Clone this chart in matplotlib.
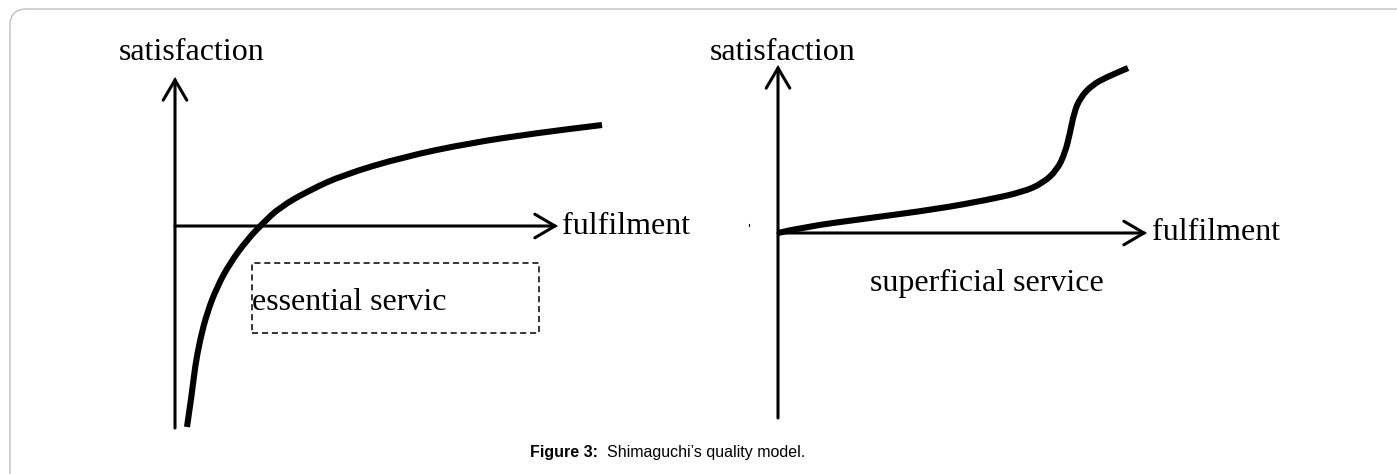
import matplotlib.pyplot as plt
from matplotlib.patches import FancyBboxPatch, Rectangle, FancyArrowPatch, PathPatch
from matplotlib.path import Path

# --- data (diagram units, origin at the axis crossing) ---
# essential service: satisfaction vs fulfilment
essential_x = [0.12, 0.17, 0.20, 0.25, 0.32, 0.42, 0.55, 0.72, 0.87, 1.05,
               1.35, 1.68, 2.28, 2.95, 3.62, 4.27]
essential_y = [-2.01, -1.67, -1.41, -1.14, -0.87, -0.61, -0.37, -0.14, 0.02, 0.19,
               0.36, 0.51, 0.69, 0.83, 0.93, 1.01]

# superficial service: satisfaction vs fulfilment
superficial_x = [0.0, 0.25, 0.92, 1.59, 2.09, 2.45, 2.65, 2.79, 2.87, 2.92,
                 2.96, 3.02, 3.14, 3.29, 3.50]
superficial_y = [0.0, 0.06, 0.15, 0.24, 0.33, 0.41, 0.50, 0.63, 0.80, 1.00,
                 1.20, 1.35, 1.48, 1.56, 1.65]

x_label = 'fulfilment'
y_label = 'satisfaction'
left_box_label = 'essential servic'
right_label = 'superficial service'
caption_bold = 'Figure 3:'
caption_text = "  Shimaguchi\u2019s quality model."

SERIF = ['Liberation Serif', 'DejaVu Serif']
SANS = ['Liberation Sans', 'DejaVu Sans']

W, H = 1397, 474
fig = plt.figure(figsize=(W / 100, H / 100), dpi=100)

# page frame (only the top-left corner is visible in the crop)
frame = FancyBboxPatch((10 / W, -0.2), 1.2, (H - 9) / H + 0.2,
                       boxstyle='round,pad=0,rounding_size=0.012',
                       transform=fig.transFigure, fill=False,
                       edgecolor='#c4c4c4', lw=1.1, mutation_aspect=W / H)
fig.patches.append(frame)


def make_panel(ox, oy):
    # full-figure axes, 1 unit = 100 px, origin at pixel (ox, oy)
    ax = fig.add_axes([0, 0, 1, 1])
    ax.set_xlim(-ox / 100, (W - ox) / 100)
    ax.set_ylim(-(H - oy) / 100, oy / 100)
    ax.axis('off')
    ax.patch.set_alpha(0)
    return ax


def draw_axes(ax, y_bottom, y_top, x_right):
    style = '->,head_length=1.45,head_width=0.85'
    ax.add_patch(FancyArrowPatch((0, y_bottom), (0, y_top), arrowstyle=style,
                                 mutation_scale=10, lw=2.2, color='black',
                                 shrinkA=0, shrinkB=0, joinstyle='miter'))
    ax.add_patch(FancyArrowPatch((0, 0), (x_right, 0), arrowstyle=style,
                                 mutation_scale=10, lw=2.2, color='black',
                                 shrinkA=0, shrinkB=0, joinstyle='miter'))


def smooth_curve(ax, xs, ys):
    # quadratic bezier through midpoints, read points act as control points
    pts = list(zip(xs, ys))
    verts = [pts[0]]
    codes = [Path.MOVETO]
    for i in range(1, len(pts) - 1):
        mid = ((pts[i][0] + pts[i + 1][0]) / 2, (pts[i][1] + pts[i + 1][1]) / 2)
        verts += [pts[i], mid]
        codes += [Path.CURVE3, Path.CURVE3]
    verts.append(pts[-1])
    codes.append(Path.LINETO)
    ax.add_patch(PathPatch(Path(verts, codes), fill=False, edgecolor='black',
                           lw=4.4, capstyle='butt', joinstyle='round'))


# --- left panel: essential service ---
ax1 = make_panel(175, 226)
draw_axes(ax1, -2.02, 1.49, 3.83)
smooth_curve(ax1, essential_x, essential_y)
ax1.text(0.17, 1.74, y_label, family=SERIF, fontsize=23, ha='center', va='center')
ax1.text(3.87, 0.0, x_label, family=SERIF, fontsize=23, ha='left', va='center')
ax1.add_patch(Rectangle((0.77, -1.07), 2.87, 0.70, fill=False, edgecolor='black',
                        lw=1.1, linestyle=(0, (4, 2.5))))
ax1.text(0.77, -0.77, left_box_label, family=SERIF, fontsize=23,
         ha='left', va='center')

# --- right panel: superficial service ---
ax2 = make_panel(778, 233)
draw_axes(ax2, -1.85, 1.68, 3.69)
smooth_curve(ax2, superficial_x, superficial_y)
ax2.text(0.045, 1.81, y_label, family=SERIF, fontsize=23, ha='center', va='center')
ax2.text(3.74, 0.0, x_label, family=SERIF, fontsize=23, ha='left', va='center')
ax2.text(2.09, -0.50, right_label, family=SERIF, fontsize=23, ha='center', va='center')
ax2.plot([-0.29, -0.29], [0.07, 0.09], color='black', lw=0.8)

# --- caption ---
t1 = fig.text(530 / W, 1 - 453 / H, caption_bold, family=SANS, fontsize=11.5,
              fontweight='bold', ha='left', va='center')
plt.annotate(caption_text, xy=(1, 0.5), xycoords=t1, va='center', ha='left',
             family=SANS, fontsize=11.5, annotation_clip=False)

fig.savefig('out.png', dpi=100)
